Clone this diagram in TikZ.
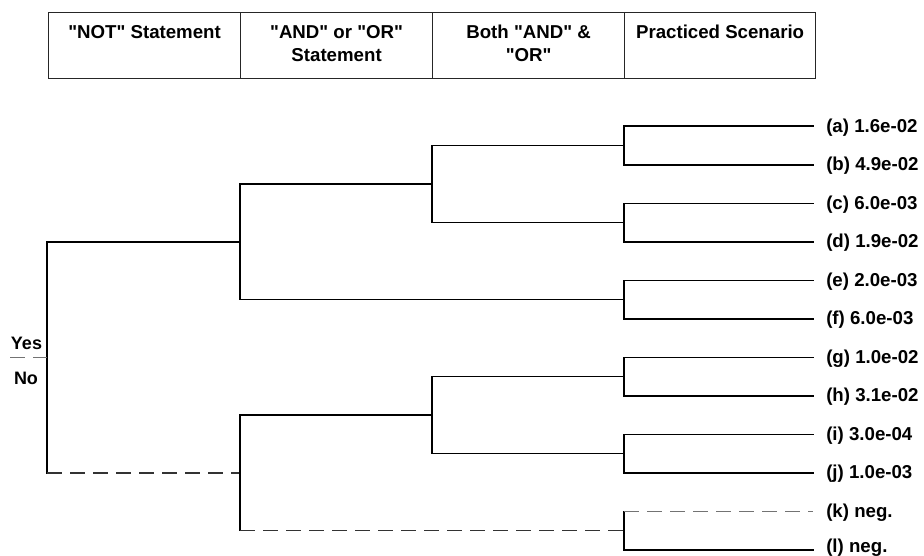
\documentclass[tikz,border=0pt]{standalone}
\usepackage{fontspec}
\setmainfont{Liberation Sans}
\newcommand{\qq}[1]{\textquotedbl#1\textquotedbl}
\begin{document}
\begin{tikzpicture}[x=0.75pt,y=-0.75pt,
  branch/.style={line width=1.2pt, black, line cap=rect},
  nobranch/.style={line width=1.2pt, black!80, dash pattern=on 11.25pt off 6pt},
  faint/.style={line width=1.1pt, black!55, dash pattern=on 11.25pt off 6pt},
  cell/.style={draw=black!85, line width=0.9pt, minimum width=144pt, minimum height=49.5pt, inner sep=0pt, anchor=north west},
  head/.style={font=\fontsize{14}{17.25}\selectfont\bfseries, align=center, anchor=north, inner sep=0pt},
  leaf/.style={font=\fontsize{14}{16}\selectfont\bfseries, anchor=base west, inner sep=0pt},
  answer/.style={font=\fontsize{13.5}{16}\selectfont\bfseries, anchor=base, inner sep=0pt}]
\useasboundingbox (0,0) rectangle (924,556);

% header row
\node[cell] (c1) at (48,11.7) {};
\node[cell] (c2) at (240,11.7) {};
\node[cell] (c3) at (432,11.7) {};
\node[cell, minimum width=143.25pt] (c4) at (624,11.7) {};
\node[head] (t1) at ([yshift=-10pt]c1.north) {\qq{NOT} Statement};
\node[head] (t2) at ([yshift=-10pt]c2.north) {\qq{AND} or \qq{OR}\\Statement};
\node[head] (t3) at ([yshift=-10pt]c3.north) {Both \qq{AND} \&\\\qq{OR}};
\node[head] (t4) at ([yshift=-10pt]c4.north) {Practiced Scenario};

% junctions of the tree
\coordinate (root) at (47,357.3);
\coordinate (n1) at (240,241.8);
\coordinate (n2) at (240,472.8);
\coordinate (n11) at (432,184.05);
\coordinate (n21) at (432,415.05);
\coordinate (pab) at (624,145.55);
\coordinate (pcd) at (624,222.55);
\coordinate (pef) at (624,299.55);
\coordinate (pgh) at (624,376.55);
\coordinate (pij) at (624,453.55);
\coordinate (pkl) at (624,530.55);

% leaf ends
\coordinate (a) at (813,126.3);
\coordinate (b) at (813,164.8);
\coordinate (c) at (813,203.3);
\coordinate (d) at (813,241.8);
\coordinate (e) at (813,280.3);
\coordinate (f) at (813,318.8);
\coordinate (g) at (813,357.3);
\coordinate (h) at (813,395.8);
\coordinate (i) at (813,434.3);
\coordinate (j) at (813,472.8);
\coordinate (k) at (813,511.3);
\coordinate (l) at (813,549.8);

% root split
\draw[branch] (root) |- (n1);
\draw[branch] (root) -- (root |- n2);
\draw[nobranch] (root |- n2) -- (n2);

% upper half
\draw[branch] (n1) |- (n11);
\draw[branch] (n1) |- (pef);
\draw[branch] (n11) |- (pab);
\draw[branch] (n11) |- (pcd);
\draw[branch] (pab) |- (a);
\draw[branch] (pab) |- (b);
\draw[branch] (pcd) |- (c);
\draw[branch] (pcd) |- (d);
\draw[branch] (pef) |- (e);
\draw[branch] (pef) |- (f);

% lower half
\draw[branch] (n2) |- (n21);
\draw[branch] (n2) -- (n2 |- pkl);
\draw[nobranch] (n2 |- pkl) -- (pkl);
\draw[branch] (n21) |- (pgh);
\draw[branch] (n21) |- (pij);
\draw[branch] (pgh) |- (g);
\draw[branch] (pgh) |- (h);
\draw[branch] (pij) |- (i);
\draw[branch] (pij) |- (j);
\draw[branch] (pkl) -- (pkl |- k);
\draw[faint] (pkl |- k) -- (k);
\draw[branch] (pkl) |- (l);

% yes / no marker
\coordinate (sepend) at (10,357.3);
\draw[faint] (sepend) -- (root);
\node[answer] (yes) at (26.5,349.3) {Yes};
\node[answer] (no) at (26,384) {No};

% leaf labels
\node[leaf] (la) at (826,132.3) {(a) 1.6e-02};
\node[leaf] (lb) at (826,170.8) {(b) 4.9e-02};
\node[leaf] (lc) at (826,209.3) {(c) 6.0e-03};
\node[leaf] (ld) at (826,247.8) {(d) 1.9e-02};
\node[leaf] (le) at (826,286.3) {(e) 2.0e-03};
\node[leaf] (lf) at (826,324.8) {(f) 6.0e-03};
\node[leaf] (lg) at (826,363.3) {(g) 1.0e-02};
\node[leaf] (lh) at (826,401.8) {(h) 3.1e-02};
\node[leaf] (li) at (826,440.3) {(i) 3.0e-04};
\node[leaf] (lj) at (826,478.8) {(j) 1.0e-03};
\node[leaf] (lk) at (826,517.3) {(k) neg.};
\node[leaf] (ll) at (826,552.3) {(l) neg.};
\end{tikzpicture}
\end{document}
